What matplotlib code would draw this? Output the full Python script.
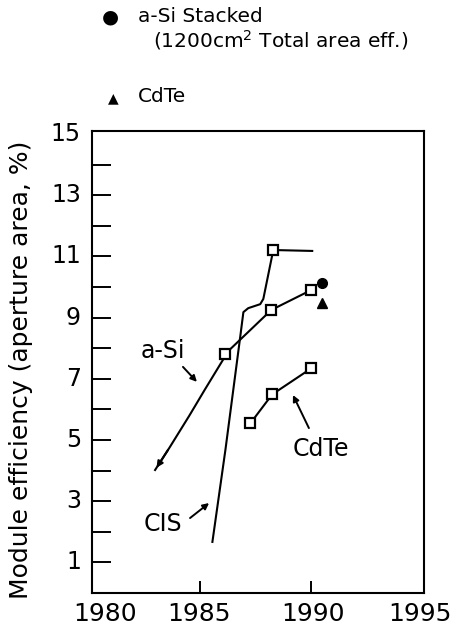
import numpy as np
import matplotlib.pyplot as plt

plt.rcParams['font.family'] = ['DejaVu Sans']

# module efficiency data
asi_years = [1986.1, 1988.2, 1990.0]
asi_eff = [7.8, 9.25, 9.9]
asi_tail_years = [1986.0, 1985.2, 1984.5, 1983.6, 1982.95]
asi_tail_eff = [7.6, 6.65, 5.8, 4.75, 4.02]

cis_years = [1985.54, 1986.13, 1986.8, 1986.94, 1987.16, 1987.7, 1987.84, 1988.29, 1990.05]
cis_eff = [1.67, 4.69, 8.39, 9.18, 9.31, 9.44, 9.61, 11.21, 11.18]
cis_sq_year = [1988.3]
cis_sq_eff = [11.2]

cdte_years = [1987.25, 1988.24, 1990.0]
cdte_eff = [5.54, 6.49, 7.34]

stack_year = [1990.5]
stack_eff = [10.13]
cdte_tri_year = [1990.5]
cdte_tri_eff = [9.48]

xtick_years = [1980, 1985, 1990, 1995]
xtick_pos = [1980.7, 1984.95, 1990.1, 1994.9]
ytick_vals = list(range(1, 16, 2))

fig = plt.figure(figsize=(4.6, 6.28), dpi=100)
ax = fig.add_axes([92/460, 1-593/628, 332/460, 462/628])

lw = 1.5
ax.plot(asi_tail_years, asi_tail_eff, '-k', lw=lw)
ax.annotate('', xy=(asi_tail_years[-1], asi_tail_eff[-1]),
            xytext=(asi_tail_years[-2], asi_tail_eff[-2]),
            arrowprops=dict(arrowstyle='-|>', color='k', lw=lw, mutation_scale=9))
ax.plot(asi_years, asi_eff, '-ks', lw=lw, ms=6.5, mfc='white', mew=1.6)
ax.plot(cis_years, cis_eff, '-k', lw=lw)
ax.plot(cis_sq_year, cis_sq_eff, 'ks', ms=6.5, mfc='white', mew=1.6)
ax.plot(cdte_years, cdte_eff, '-ks', lw=lw, ms=6.5, mfc='white', mew=1.6)
ax.plot(stack_year, stack_eff, 'ko', ms=7, zorder=1)
ax.plot(cdte_tri_year, cdte_tri_eff, 'k^', ms=6.5)

# labels with arrows
arr = dict(arrowstyle='-|>', color='k', lw=1.4, mutation_scale=9, shrinkA=0, shrinkB=0)
ax.text(1983.31, 7.91, 'a-Si', fontsize=17, ha='center', va='center')
ax.annotate('', xy=(1984.84, 6.90), xytext=(1984.21, 7.39), arrowprops=arr)
ax.text(1990.45, 4.71, 'CdTe', fontsize=17, ha='center', va='center')
ax.annotate('', xy=(1989.18, 6.47), xytext=(1989.9, 5.39), arrowprops=arr)
ax.text(1983.31, 2.25, 'CIS', fontsize=17, ha='center', va='center')
ax.annotate('', xy=(1985.39, 2.94), xytext=(1984.53, 2.45), arrowprops=arr)

ax.set_xlim(1980.1, 1995.1)
ax.set_ylim(0, 15.1)
ax.set_xticks([1985, 1990])
ax.set_xticklabels([])
ax.tick_params(axis='x', direction='in', length=9, width=1.4)
ax.set_yticks(np.arange(1, 15))
ax.set_yticklabels([])
ax.tick_params(axis='y', direction='in', length=14, width=1.4)
for s in ax.spines.values():
    s.set_linewidth(1.5)

for yr, xp in zip(xtick_years, xtick_pos):
    ax.text(xp, -0.3, str(yr), ha='center', va='top', fontsize=18, clip_on=False)
for v in ytick_vals:
    ax.text(1979.6, v, str(v), ha='right', va='center', fontsize=17, clip_on=False)

fig.text(21/460, 1-370/628, 'Module efficiency (aperture area, %)', rotation=90,
         ha='center', va='center', fontsize=18)

# legend at top
fig.text(110/460, 1-17/628, '\u25cf', ha='center', va='center', fontsize=14)
fig.text(138/460, 1-17/628, 'a-Si Stacked', ha='left', va='center', fontsize=14.5)
fig.text(153/460, 1-40/628, '(1200cm$^2$ Total area eff.)', ha='left', va='center',
         fontsize=14.5)
fig.text(113/460, 1-98/628, '\u25b2', ha='center', va='center', fontsize=10)
fig.text(138/460, 1-97/628, 'CdTe', ha='left', va='center', fontsize=14.5)

plt.savefig('out.png', dpi=100)
